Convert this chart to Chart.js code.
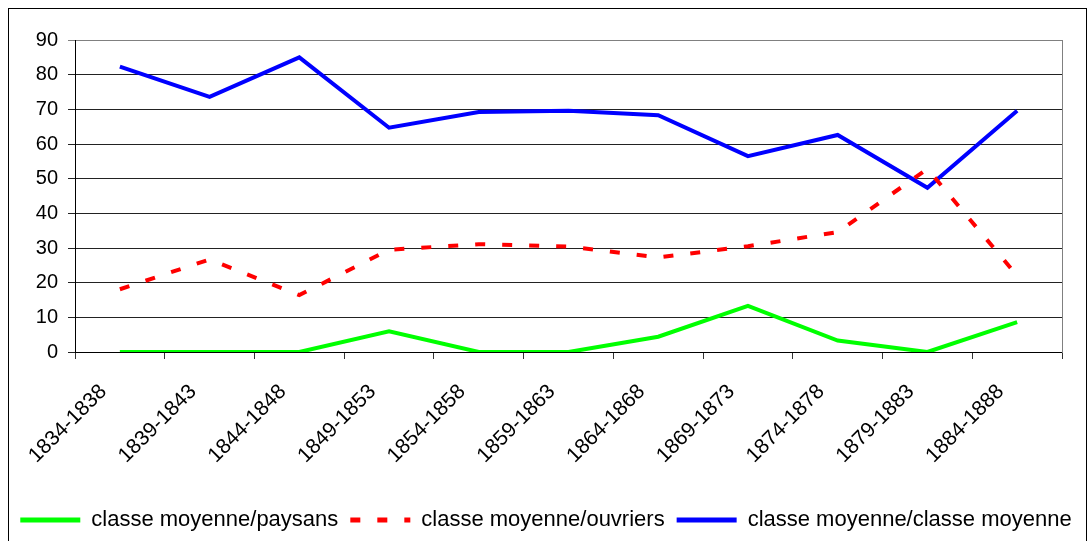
<!DOCTYPE html>
<html>
<head>
<meta charset="utf-8">
<script src="https://cdn.jsdelivr.net/npm/chart.js@4/dist/chart.umd.min.js"></script>
<style>
  html, body { margin: 0; padding: 0; background: #fff; }
  canvas { display: block; }
</style>
</head>
<body>
<canvas id="c" width="1092" height="541"></canvas>
<script>
const categories = ['1834-1838','1839-1843','1844-1848','1849-1853','1854-1858','1859-1863','1864-1868','1869-1873','1874-1878','1879-1883','1884-1888'];
const paysans = [0, 0, 0, 6.0, 0, 0, 4.4, 13.3, 3.3, 0, 8.6];
const ouvriers = [18.1, 26.7, 16.4, 29.5, 31.1, 30.4, 27.3, 30.5, 34.6, 52.8, 22.0];
const classeMoyenne = [82.3, 73.6, 85.0, 64.7, 69.2, 69.6, 68.3, 56.5, 62.6, 47.4, 69.6];
const yTicks = [0, 10, 20, 30, 40, 50, 60, 70, 80, 90];
const seriesNames = ['classe moyenne/paysans', 'classe moyenne/ouvriers', 'classe moyenne/classe moyenne'];

const FONT = '"Liberation Sans", Arial, sans-serif';

const framePlugin = {
  id: 'frame',
  afterDraw(chart) {
    const ctx = chart.ctx;
    ctx.save();
    ctx.strokeStyle = '#000';
    ctx.lineWidth = 1;
    ctx.strokeRect(8.5, 8.5, 1078, 600);
    ctx.restore();
  }
};

new Chart(document.getElementById('c'), {
  type: 'line',
  data: {
    labels: categories,
    datasets: [
      { label: seriesNames[0], data: paysans, borderColor: '#00FF00', backgroundColor: '#00FF00', borderWidth: 4, pointRadius: 0, tension: 0, pointStyle: 'line' },
      { label: seriesNames[1], data: ouvriers, borderColor: '#FF0000', backgroundColor: '#FF0000', borderWidth: 4, borderDash: [10, 17], pointRadius: 0, tension: 0, pointStyle: 'line' },
      { label: seriesNames[2], data: classeMoyenne, borderColor: '#0000FF', backgroundColor: '#0000FF', borderWidth: 4, pointRadius: 0, tension: 0, pointStyle: 'line' }
    ]
  },
  options: {
    responsive: false,
    animation: false,
    layout: { padding: { top: 40, left: 0, right: 0, bottom: 0 } },
    plugins: {
      tooltip: { enabled: false },
      legend: {
        position: 'bottom',
        labels: {
          usePointStyle: true,
          pointStyleWidth: 60,
          boxHeight: 22,
          padding: 12,
          color: '#000',
          font: { family: FONT, size: 22 },
          generateLabels(chart) {
            const items = Chart.defaults.plugins.legend.labels.generateLabels(chart);
            items.forEach((it, i) => {
              const ds = chart.data.datasets[it.datasetIndex != null ? it.datasetIndex : i];
              it.lineDash = ds.borderDash || [];
              it.lineDashOffset = 0;
              it.lineWidth = 5;
              it.lineCap = 'butt';
            });
            return items;
          }
        }
      }
    },
    scales: {
      x: {
        offset: true,
        grid: { display: true, offset: true, drawOnChartArea: false, drawTicks: true, tickLength: 7, color: '#333' },
        border: { display: true, color: '#000', width: 1 },
        ticks: {
          minRotation: 45, maxRotation: 45, autoSkip: false, padding: 4, color: '#000',
          font: { family: FONT, size: 21 },
          callback(value) { return this.getLabelForValue(value) + '    '; }
        },
        afterFit(s) { s.height = 145; }
      },
      y: {
        min: 0, max: 90,
        afterBuildTicks(s) { s.ticks = yTicks.map(v => ({ value: v })); },
        grid: {
          color: ctx => (ctx.tick && ctx.tick.value === 90) ? '#808080' : '#222',
          lineWidth: 1, drawTicks: true, tickLength: 7
        },
        border: { display: true, color: '#000', width: 1 },
        ticks: { padding: 10, color: '#000', font: { family: FONT, size: 20 } },
        afterFit(s) { s.width = 75; }
      },
      y2: {
        position: 'right',
        display: true,
        grid: { display: false, drawTicks: false },
        ticks: { display: false },
        border: { display: true, color: '#808080', width: 1 },
        afterFit(s) { s.width = 30; }
      }
    }
  },
  plugins: [framePlugin]
});
</script>
</body>
</html>
